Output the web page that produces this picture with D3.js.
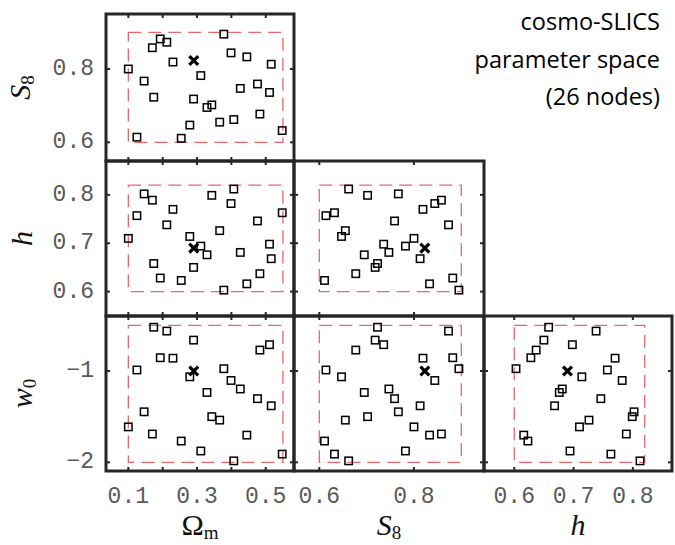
<!DOCTYPE html>
<html>
<head>
<meta charset="utf-8">
<script src="https://cdn.jsdelivr.net/npm/d3@7"></script>
<style>
  html, body { margin: 0; padding: 0; background: #fff; }
  svg { display: block; }
</style>
</head>
<body>
<div id="chart"></div>
<script>
// cosmo-SLICS parameter space, corner plot of the 26 nodes

// node coordinates (25 wCDM nodes), same order in every array
const omegaM = [0.100, 0.125, 0.146, 0.170, 0.174, 0.193, 0.212, 0.230, 0.254, 0.279, 0.290, 0.311, 0.329,
                0.343, 0.366, 0.378, 0.399, 0.407, 0.426, 0.445, 0.476, 0.483, 0.511, 0.516, 0.548];
const s8     = [0.800, 0.614, 0.767, 0.858, 0.723, 0.882, 0.873, 0.819, 0.611, 0.647, 0.718, 0.782, 0.695,
                0.702, 0.655, 0.895, 0.844, 0.662, 0.747, 0.833, 0.759, 0.677, 0.736, 0.813, 0.632];
const hubble = [0.710, 0.757, 0.802, 0.789, 0.658, 0.628, 0.738, 0.770, 0.623, 0.714, 0.650, 0.694, 0.676,
                0.799, 0.726, 0.603, 0.782, 0.812, 0.681, 0.616, 0.746, 0.637, 0.698, 0.668, 0.763];
const w0     = [-1.612, -0.989, -1.447, -1.690, -0.521, -0.855, -0.563, -0.860, -1.767, -1.064, -0.662, -1.876, -1.235,
                -1.500, -1.538, -0.975, -1.104, -1.984, -1.197, -1.702, -1.303, -0.771, -0.712, -1.381, -1.910];

// fiducial LCDM node (the cross): Om, S8, h, w0
const fiducial = [0.2905, 0.823, 0.6898, -1.0];

// prior box of each parameter
const priorOm = [0.1, 0.55];
const priorS8 = [0.6, 0.9];
const priorH  = [0.6, 0.82];
const priorW0 = [-2.0, -0.5];

// ticks
const ticksOm = [0.1, 0.2, 0.3, 0.4, 0.5];
const labelsOm = { 0.1: '0.1', 0.3: '0.3', 0.5: '0.5' };
const ticksS8 = [0.6, 0.8];
const labelsS8 = { 0.6: '0.6', 0.8: '0.8' };
const ticksH = [0.6, 0.7, 0.8];
const labelsH = { 0.6: '0.6', 0.7: '0.7', 0.8: '0.8' };
const ticksW0 = [-1, -2];
const labelsW0 = { '-1': '\u22121', '-2': '\u22122' };

const titleLines = ['cosmo-SLICS', 'parameter space', '(26 nodes)'];

// ---------------------------------------------------------------------------

const W = 675, H = 545;
const colEdges = [106, 294, 484, 672];
const rowEdges = [14, 161, 316, 471];

const values = [omegaM, s8, hubble, w0];
const priors = [priorOm, priorS8, priorH, priorW0];
const ticks  = [ticksOm, ticksS8, ticksH, ticksW0];
const labels = [labelsOm, labelsS8, labelsH, labelsW0];

// visible range of each parameter, as a column (x) and as a row (y)
const colDomain = { 0: [0.035, 0.5823], 1: [0.5465, 0.948], 2: [0.549, 0.866] };
const rowDomain = { 1: [0.549, 0.95], 2: [0.5495, 0.870], 3: [-2.095, -0.398] };

const colVar = [0, 1, 2];
const rowVar = [1, 2, 3];

const xScale = colVar.map((v, i) => d3.scaleLinear().domain(colDomain[v]).range([colEdges[i], colEdges[i + 1]]));
const yScale = rowVar.map((v, j) => d3.scaleLinear().domain(rowDomain[v]).range([rowEdges[j + 1], rowEdges[j]]));

const svg = d3.select('#chart').append('svg').attr('width', W).attr('height', H);

const tickFont = '"Liberation Mono", "DejaVu Sans Mono", monospace';
const mathFont = '"Liberation Serif", "DejaVu Serif", serif';
const red = '#e7676c';
const frame = '#262626';

const panels = [];
rowVar.forEach((rv, j) => colVar.forEach((cv, i) => { if (i <= j) panels.push({ i, j, cv, rv }); }));

const gPanels = svg.append('g');

panels.forEach(p => {
  const x = xScale[p.i], y = yScale[p.j];
  const g = gPanels.append('g');

  // prior box
  const px = priors[p.cv], py = priors[p.rv];
  g.append('rect')
    .attr('x', x(px[0])).attr('y', y(py[1]))
    .attr('width', x(px[1]) - x(px[0])).attr('height', y(py[0]) - y(py[1]))
    .attr('fill', 'none').attr('stroke', red).attr('stroke-width', 1.3)
    .attr('stroke-dasharray', '13,7');

  // nodes
  const pts = d3.range(values[p.cv].length).map(k => [values[p.cv][k], values[p.rv][k]]);
  g.selectAll('.node').data(pts).join('rect')
    .attr('class', 'node')
    .attr('x', d => x(d[0]) - 3.7).attr('y', d => y(d[1]) - 3.7)
    .attr('width', 7.4).attr('height', 7.4)
    .attr('fill', 'none').attr('stroke', '#000').attr('stroke-width', 1.5);

  // fiducial cross
  const fx = x(fiducial[p.cv]), fy = y(fiducial[p.rv]), s = 3.3;
  g.append('path')
    .attr('d', `M${fx - s},${fy - s}L${fx + s},${fy + s}M${fx - s},${fy + s}L${fx + s},${fy - s}`)
    .attr('stroke', '#000').attr('stroke-width', 3.2).attr('stroke-linecap', 'square');

  // inward ticks on all four sides
  const [x0, x1] = x.range(), [y1, y0] = y.range();
  ticks[p.cv].forEach(t => {
    g.append('line').attr('x1', x(t)).attr('x2', x(t)).attr('y1', y0).attr('y2', y0 + 4)
      .attr('stroke', frame).attr('stroke-width', 2);
    g.append('line').attr('x1', x(t)).attr('x2', x(t)).attr('y1', y1).attr('y2', y1 - 4)
      .attr('stroke', frame).attr('stroke-width', 2);
  });
  ticks[p.rv].forEach(t => {
    g.append('line').attr('y1', y(t)).attr('y2', y(t)).attr('x1', x0).attr('x2', x0 + 4)
      .attr('stroke', frame).attr('stroke-width', 2);
    g.append('line').attr('y1', y(t)).attr('y2', y(t)).attr('x1', x1).attr('x2', x1 - 4)
      .attr('stroke', frame).attr('stroke-width', 2);
  });

  // frame
  g.append('rect')
    .attr('x', x0).attr('y', y0).attr('width', x1 - x0).attr('height', y1 - y0)
    .attr('fill', 'none').attr('stroke', frame).attr('stroke-width', 3);
});

// tick labels: bottom row and left column
const bottom = rowEdges[3];
colVar.forEach((v, i) => {
  svg.append('g').selectAll('text').data(Object.keys(labels[v])).join('text')
    .attr('x', d => xScale[i](+d)).attr('y', bottom + 32)
    .attr('text-anchor', 'middle')
    .attr('font-family', tickFont).attr('font-size', 23).attr('fill', '#5a5a5a')
    .text(d => labels[v][d]);
});
rowVar.forEach((v, j) => {
  svg.append('g').selectAll('text').data(Object.keys(labels[v])).join('text')
    .attr('x', 94).attr('y', d => yScale[j](+d))
    .attr('text-anchor', 'end').attr('dominant-baseline', 'central')
    .attr('font-family', tickFont).attr('font-size', 23).attr('fill', '#5a5a5a')
    .text(d => labels[v][d]);
});

// axis titles
function mathLabel(sel, main, sub, italic, subItalic) {
  sel.attr('font-family', mathFont).attr('font-size', 30).attr('fill', '#111');
  sel.append('tspan').attr('font-style', italic ? 'italic' : 'normal').text(main);
  sel.append('tspan').attr('font-size', 19).attr('dy', 4)
    .attr('font-style', subItalic ? 'italic' : 'normal').text(sub);
}

const xTitles = [['\u03A9', 'm', false], ['S', '8', true], ['h', '', true]];
xTitles.forEach((t, i) => {
  const cx = (colEdges[i] + colEdges[i + 1]) / 2;
  svg.append('text').attr('x', cx).attr('y', 535).attr('text-anchor', 'middle')
    .call(mathLabel, t[0], t[1], t[2], false);
});

const yTitles = [['S', '8', 30], ['h', '', 32], ['w', '0', 32]];
yTitles.forEach((t, j) => {
  const cy = (rowEdges[j] + rowEdges[j + 1]) / 2;
  svg.append('text').attr('text-anchor', 'middle')
    .attr('transform', `translate(${t[2]},${cy}) rotate(-90)`)
    .call(mathLabel, t[0], t[1], true, false);
});

// title text in the empty corner
svg.append('g').selectAll('text').data(titleLines).join('text')
  .attr('x', 660).attr('y', (d, k) => 30 + k * 37.5)
  .attr('text-anchor', 'end')
  .attr('font-family', '"Open Sans", "Noto Sans", sans-serif').attr('font-size', 23.5).attr('fill', '#000')
  .text(d => d);
</script>
</body>
</html>
